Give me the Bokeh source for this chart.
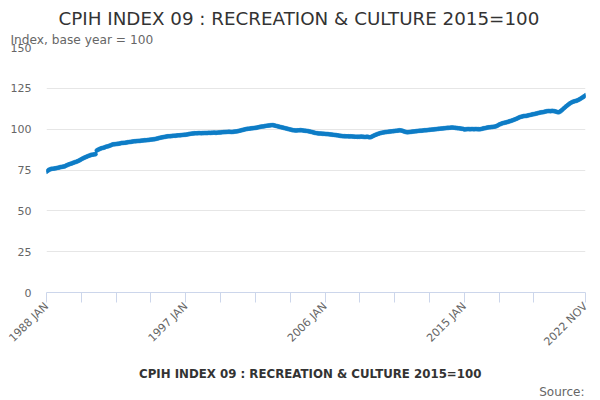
import math
from bokeh.plotting import figure
from bokeh.layouts import column
from bokeh.models import (Range1d, FixedTicker, Label, Title, Legend,
                          LegendItem, ColumnDataSource)
from bokeh.embed import file_html
from bokeh.resources import INLINE

title_text = "CPIH INDEX 09 : RECREATION & CULTURE 2015=100"
y_axis_title = "Index, base year = 100"
series_name = "CPIH INDEX 09 : RECREATION & CULTURE 2015=100"
source_text = "Source:"

month_names = ["JAN", "FEB", "MAR", "APR", "MAY", "JUN",
               "JUL", "AUG", "SEP", "OCT", "NOV", "DEC"]
first_year = 1988
last_year = 2022

# monthly index values, Jan 1988 .. Nov 2022
v1988 = [74.0, 74.6, 75.2, 75.5, 75.7, 75.8, 75.9, 76.0, 76.2, 76.4, 76.6, 76.8]
v1989 = [76.9, 77.1, 77.2, 77.6, 78.0, 78.3, 78.6, 78.9, 79.2, 79.5, 79.8, 80.0]
v1990 = [80.3, 80.7, 81.1, 81.6, 82.0, 82.4, 82.8, 83.1, 83.4, 83.8, 84.1, 84.3]
v1991 = [84.4, 84.6, 84.7, 87.0, 87.4, 87.8, 88.1, 88.4, 88.6, 88.8, 89.2, 89.4]
v1992 = [89.6, 89.9, 90.2, 90.6, 90.7, 90.8, 90.9, 91.0, 91.1, 91.3, 91.5, 91.6]
v1993 = [91.6, 91.7, 91.8, 92.0, 92.1, 92.2, 92.3, 92.5, 92.6, 92.6, 92.7, 92.8]
v1994 = [92.8, 92.9, 93.0, 93.1, 93.2, 93.2, 93.3, 93.4, 93.5, 93.6, 93.7, 93.8]
v1995 = [93.9, 94.1, 94.3, 94.5, 94.7, 94.9, 95.0, 95.2, 95.3, 95.5, 95.6, 95.7]
v1996 = [95.7, 95.8, 95.9, 96.0, 96.0, 96.1, 96.2, 96.2, 96.3, 96.4, 96.5, 96.6]
v1997 = [96.6, 96.8, 96.9, 97.1, 97.2, 97.3, 97.4, 97.5, 97.5, 97.5, 97.6, 97.6]
v1998 = [97.5, 97.6, 97.6, 97.7, 97.6, 97.7, 97.8, 97.7, 97.8, 97.8, 97.9, 97.8]
v1999 = [97.8, 97.9, 98.0, 98.0, 98.1, 98.2, 98.2, 98.3, 98.3, 98.4, 98.4, 98.3]
v2000 = [98.3, 98.4, 98.5, 98.6, 98.7, 98.9, 99.1, 99.3, 99.5, 99.7, 99.9, 100.1]
v2001 = [100.2, 100.3, 100.4, 100.5, 100.6, 100.7, 100.8, 100.9, 101.1, 101.3, 101.5, 101.6]
v2002 = [101.7, 101.8, 102.0, 102.1, 102.2, 102.3, 102.4, 102.5, 102.4, 102.2, 102.0, 101.8]
v2003 = [101.6, 101.4, 101.2, 101.0, 100.8, 100.6, 100.4, 100.2, 100.0, 99.8, 99.6, 99.4]
v2004 = [99.3, 99.2, 99.2, 99.3, 99.3, 99.4, 99.3, 99.2, 99.1, 99.0, 98.9, 98.8]
v2005 = [98.6, 98.4, 98.2, 98.0, 97.8, 97.6, 97.5, 97.4, 97.3, 97.3, 97.2, 97.2]
v2006 = [97.1, 97.0, 97.0, 96.9, 96.8, 96.7, 96.6, 96.5, 96.4, 96.3, 96.2, 96.0]
v2007 = [95.9, 95.8, 95.7, 95.7, 95.6, 95.6, 95.6, 95.5, 95.6, 95.5, 95.5, 95.4]
v2008 = [95.4, 95.3, 95.4, 95.3, 95.5, 95.4, 95.3, 95.2, 95.3, 95.4, 95.1, 95.0]
v2009 = [95.3, 95.7, 96.1, 96.5, 96.8, 97.1, 97.4, 97.6, 97.8, 97.9, 98.1, 98.2]
v2010 = [98.3, 98.4, 98.5, 98.6, 98.7, 98.8, 98.9, 99.0, 99.1, 99.2, 99.3, 99.2]
v2011 = [99.0, 98.7, 98.4, 98.2, 98.1, 98.2, 98.3, 98.4, 98.5, 98.6, 98.7, 98.8]
v2012 = [98.9, 99.0, 99.1, 99.1, 99.2, 99.3, 99.3, 99.4, 99.5, 99.6, 99.7, 99.8]
v2013 = [99.8, 99.9, 100.0, 100.1, 100.2, 100.3, 100.4, 100.4, 100.5, 100.6, 100.7, 100.8]
v2014 = [100.8, 100.9, 101.0, 101.0, 100.9, 100.8, 100.7, 100.6, 100.5, 100.4, 100.3, 100.2]
v2015 = [99.8, 99.9, 100.0, 100.1, 100.0, 100.0, 100.1, 100.0, 100.0, 100.1, 100.0, 100.0]
v2016 = [99.9, 100.1, 100.3, 100.5, 100.6, 100.8, 101.0, 101.1, 101.2, 101.3, 101.4, 101.5]
v2017 = [101.6, 101.9, 102.3, 102.8, 103.1, 103.4, 103.7, 103.9, 104.1, 104.3, 104.5, 104.8]
v2018 = [105.0, 105.3, 105.6, 105.9, 106.2, 106.6, 107.0, 107.3, 107.6, 107.8, 108.0, 108.1]
v2019 = [108.1, 108.3, 108.5, 108.7, 108.9, 109.1, 109.2, 109.4, 109.6, 109.8, 110.0, 110.2]
v2020 = [110.3, 110.4, 110.6, 110.8, 111.0, 111.1, 111.1, 111.0, 111.2, 111.1, 111.0, 110.8]
v2021 = [110.5, 110.3, 110.6, 111.2, 111.9, 112.6, 113.3, 114.0, 114.6, 115.2, 115.8, 116.3]
v2022 = [116.7, 117.0, 117.2, 117.4, 117.7, 118.1, 118.6, 119.1, 119.6, 120.1, 120.7]

yearly = [v1988, v1989, v1990, v1991, v1992, v1993, v1994, v1995, v1996,
          v1997, v1998, v1999, v2000, v2001, v2002, v2003, v2004, v2005,
          v2006, v2007, v2008, v2009, v2010, v2011, v2012, v2013, v2014,
          v2015, v2016, v2017, v2018, v2019, v2020, v2021, v2022]

y_ticks = [0, 25, 50, 75, 100, 125, 150]
x_tick_months = ["1988 JAN", "1990 APR", "1992 JUL", "1994 OCT", "1997 JAN",
                 "1999 APR", "2001 JUL", "2003 OCT", "2006 JAN", "2008 APR",
                 "2010 JUL", "2012 OCT", "2015 JAN", "2017 APR", "2019 JUL",
                 "2022 NOV"]
labelled_ticks = ["1988 JAN", "1997 JAN", "2006 JAN", "2015 JAN", "2022 NOV"]

# build month categories and values
months = []
values = []
for i, yr in enumerate(range(first_year, last_year + 1)):
    for j, val in enumerate(yearly[i]):
        months.append(f"{yr} {month_names[j]}")
        values.append(val)
idx = list(range(len(months)))

src = ColumnDataSource(data=dict(x=idx, y=values, month=months))

BLUE = "#0e7dc6"
GREY = "#666666"
DARK = "#333333"
FONT = "DejaVu Sans"
W = 600
HEAD_H, MAIN_H, FOOT_H = 30, 325, 45
FRAME_W, FRAME_H = 539, 245
LEFT, RIGHT = 46, 15


def blank_fig(h):
    f = figure(width=W, height=h, frame_width=FRAME_W,
               output_backend="svg", toolbar_location=None,
               x_range=Range1d(0, FRAME_W), y_range=Range1d(0, h),
               x_axis_type=None, y_axis_type=None,
               min_border_left=LEFT, min_border_right=RIGHT, min_border_top=0,
               min_border_bottom=0, outline_line_color=None,
               background_fill_color="white", border_fill_color="white")
    f.xgrid.visible = False
    f.ygrid.visible = False
    return f


# ---- header: title (screen units relative to the aligned frame)
head = blank_fig(HEAD_H)
head.add_layout(Label(x=58 - LEFT, y=HEAD_H - 18, x_units="screen",
                      y_units="screen", text=title_text, text_font=FONT,
                      text_font_size="18.3px", text_color=DARK,
                      text_align="left", text_baseline="middle"))

# ---- main chart
p = figure(width=W, height=MAIN_H, frame_width=FRAME_W, frame_height=FRAME_H,
           output_backend="svg", toolbar_location=None,
           x_range=Range1d(0, len(months) - 1), y_range=Range1d(0, 150),
           min_border_left=LEFT, min_border_right=RIGHT, min_border_top=17,
           min_border_bottom=63, background_fill_color="white",
           border_fill_color="white", outline_line_color=None)

p.line("x", "y", source=src, line_color=BLUE, line_width=2.2)
p.scatter("x", "y", source=src, size=4, fill_color=BLUE, line_color=BLUE,
          line_width=0.5)

sub = Title(text=y_axis_title, align="left", offset=10 - LEFT, standoff=1,
            text_font=FONT, text_font_size="12.2px", text_font_style="normal",
            text_color=GREY)
p.add_layout(sub, "above")

p.yaxis.ticker = FixedTicker(ticks=y_ticks)
p.yaxis.axis_line_color = None
p.yaxis.major_tick_line_color = None
p.yaxis.minor_tick_line_color = None
p.yaxis.major_label_text_font = FONT
p.yaxis.major_label_text_font_size = "11px"
p.yaxis.major_label_text_color = GREY
p.yaxis.major_label_standoff = 9
p.ygrid.grid_line_color = "#e6e6e6"
p.ygrid.ticker = FixedTicker(ticks=y_ticks[1:])
p.xgrid.grid_line_color = None

xt = [months.index(m) for m in x_tick_months]
overrides = {t: (months[t] if months[t] in labelled_ticks else "") for t in xt}
p.xaxis.ticker = FixedTicker(ticks=xt)
p.xaxis.major_label_overrides = overrides
p.xaxis.axis_line_color = "#ccd6eb"
p.xaxis.major_tick_line_color = "#ccd6eb"
p.xaxis.major_tick_out = 10
p.xaxis.major_tick_in = 0
p.xaxis.minor_tick_line_color = None
p.xaxis.major_label_orientation = math.pi / 4
p.xaxis.major_label_text_font = FONT
p.xaxis.major_label_text_font_size = "11px"
p.xaxis.major_label_text_color = GREY
p.xaxis.major_label_standoff = 2

# ---- footer: legend and source
foot = blank_fig(FOOT_H)
empty = ColumnDataSource(data=dict(x=[], y=[]))
lg_line = foot.line("x", "y", source=empty, line_color=BLUE, line_width=2.2)
lg_dot = foot.scatter("x", "y", source=empty, size=4, fill_color=BLUE,
                      line_color=BLUE)
legend = Legend(items=[LegendItem(label=series_name,
                                  renderers=[lg_line, lg_dot])],
                location=(118 - LEFT, 17), orientation="horizontal",
                glyph_width=16, glyph_height=20, label_standoff=5,
                padding=0, margin=0, border_line_color=None,
                background_fill_alpha=0,
                label_text_font=FONT, label_text_font_size="11.8px",
                label_text_font_style="bold", label_text_color=DARK)
foot.add_layout(legend)
foot.add_layout(Label(x=FRAME_W - 1, y=10, x_units="screen", y_units="screen",
                      text=source_text, text_font=FONT, text_font_size="12px",
                      text_color=GREY, text_align="right",
                      text_baseline="middle"))

layout = column(head, p, foot, spacing=0)
open("out.html", "w").write(file_html(layout, INLINE))
